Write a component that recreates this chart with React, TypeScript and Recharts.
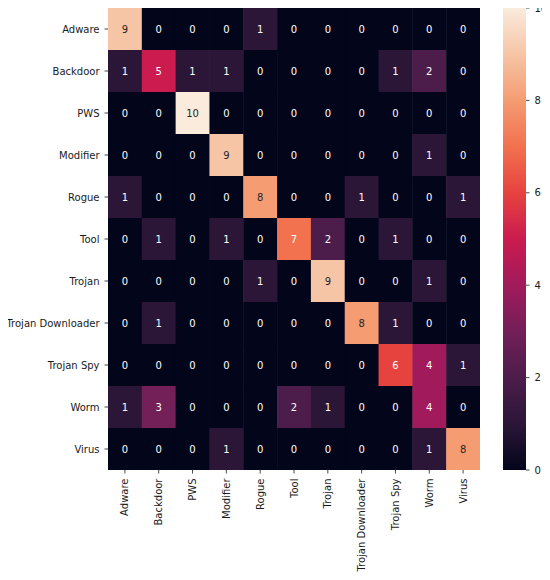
import React from 'react';
import { ScatterChart, Scatter, XAxis, YAxis, BarChart, Bar } from 'recharts';

// ---- data ----
const classes = [
  'Adware', 'Backdoor', 'PWS', 'Modifier', 'Rogue', 'Tool', 'Trojan',
  'Trojan Downloader', 'Trojan Spy', 'Worm', 'Virus',
];
const adwareRow = [9, 0, 0, 0, 1, 0, 0, 0, 0, 0, 0];
const backdoorRow = [1, 5, 1, 1, 0, 0, 0, 0, 1, 2, 0];
const pwsRow = [0, 0, 10, 0, 0, 0, 0, 0, 0, 0, 0];
const modifierRow = [0, 0, 0, 9, 0, 0, 0, 0, 0, 1, 0];
const rogueRow = [1, 0, 0, 0, 8, 0, 0, 1, 0, 0, 1];
const toolRow = [0, 1, 0, 1, 0, 7, 2, 0, 1, 0, 0];
const trojanRow = [0, 0, 0, 0, 1, 0, 9, 0, 0, 1, 0];
const trojanDownloaderRow = [0, 1, 0, 0, 0, 0, 0, 8, 1, 0, 0];
const trojanSpyRow = [0, 0, 0, 0, 0, 0, 0, 0, 6, 4, 1];
const wormRow = [1, 3, 0, 0, 0, 2, 1, 0, 0, 4, 0];
const virusRow = [0, 0, 0, 1, 0, 0, 0, 0, 0, 1, 8];
const colorbarTicks = [0, 2, 4, 6, 8, 10];

const rows = [
  adwareRow, backdoorRow, pwsRow, modifierRow, rogueRow, toolRow,
  trojanRow, trojanDownloaderRow, trojanSpyRow, wormRow, virusRow,
];

// rocket colormap sampled at 0, 0.1, ..., 1.0
const rocketStops = [
  '#03051a', '#2b1638', '#4c1d4b', '#731f58', '#a11a5b', '#cb1b4f',
  '#e6433f', '#f2714f', '#f59c73', '#f6c5a6', '#faebdd',
];

const vmin = colorbarTicks[0];
const vmax = colorbarTicks[colorbarTicks.length - 1];

function hexToRgb(h: string) {
  return [1, 3, 5].map((i) => parseInt(h.slice(i, i + 2), 16));
}
function colorFor(v: number) {
  const t = (v - vmin) / (vmax - vmin);
  const pos = Math.max(0, Math.min(1, t)) * (rocketStops.length - 1);
  const i = Math.min(Math.floor(pos), rocketStops.length - 2);
  const f = pos - i;
  const a = hexToRgb(rocketStops[i]);
  const b = hexToRgb(rocketStops[i + 1]);
  const c = a.map((x, k) => Math.round(x + (b[k] - x) * f));
  return `rgb(${c[0]},${c[1]},${c[2]})`;
}
function luminance(rgb: string) {
  const m = rgb.match(/\d+/g)!.map(Number).map((x) => {
    const s = x / 255;
    return s <= 0.03928 ? s / 12.92 : Math.pow((s + 0.055) / 1.055, 2.4);
  });
  return 0.2126 * m[0] + 0.7152 * m[1] + 0.0722 * m[2];
}

const cells = rows.flatMap((row, r) =>
  row.map((v, c) => ({
    x: c + 0.5,
    y: r + 0.5,
    v,
    actual: classes[r],
    predicted: classes[c],
  }))
);
const tickPositions = classes.map((_, i) => i + 0.5);
const colorbarData = [{ name: 'count', max: vmax }];

// ---- layout ----
const CHART_W = 480;
const CHART_H = 572;
const Y_AXIS_W = 100;
const X_AXIS_H = 110;
const RIGHT_M = 8;
const PLOT_W = CHART_W - Y_AXIS_W - RIGHT_M;
const PLOT_H = CHART_H - X_AXIS_H;
const CB_TOP = 10;
const FONT = "'DejaVu Sans', sans-serif";
const TEXT = '#1a1a1a';

const CellShape = (props: any) => {
  const { cx, cy, payload } = props;
  const w = PLOT_W / classes.length;
  const h = PLOT_H / classes.length;
  const fill = colorFor(payload.v);
  const txt = luminance(fill) > 0.408 ? '#262626' : '#ffffff';
  return (
    <g>
      <rect x={cx - w / 2} y={cy - h / 2} width={w + 0.5} height={h + 0.5} fill={fill} />
      <text
        x={cx}
        y={cy}
        textAnchor="middle"
        dominantBaseline="central"
        fontSize={10}
        fontFamily={FONT}
        fill={txt}
      >
        {payload.v}
      </text>
    </g>
  );
};

const RotatedTick = (props: any) => {
  const { x, y, payload } = props;
  return (
    <text
      x={x}
      y={y}
      transform={`rotate(-90, ${x}, ${y})`}
      textAnchor="end"
      dominantBaseline="central"
      fontSize={10}
      fontFamily={FONT}
      fill={TEXT}
    >
      {classes[Math.floor(payload.value)]}
    </text>
  );
};

const RowTick = (props: any) => {
  const { x, y, payload } = props;
  return (
    <text
      x={x}
      y={y}
      textAnchor="end"
      dominantBaseline="central"
      fontSize={10}
      fontFamily={FONT}
      fill={TEXT}
    >
      {classes[Math.floor(payload.value)]}
    </text>
  );
};

const ColorbarTick = (props: any) => {
  const { x, y, payload } = props;
  return (
    <text
      x={x}
      y={y}
      textAnchor="start"
      dominantBaseline="central"
      fontSize={10}
      fontFamily={FONT}
      fill={TEXT}
    >
      {payload.value}
    </text>
  );
};

export default function App() {
  return (
    <div style={{ position: 'relative', width: 534, height: 564, fontFamily: FONT }}>
      <style>{'body{overflow:hidden} .recharts-surface{overflow:visible}'}</style>
      <div style={{ position: 'absolute', left: 0, top: 0 }}>
        <ScatterChart
          width={CHART_W}
          height={CHART_H}
          margin={{ top: 0, right: RIGHT_M, bottom: 0, left: 0 }}
        >
          <XAxis
            type="number"
            dataKey="x"
            domain={[0, classes.length]}
            ticks={tickPositions}
            interval={0}
            height={X_AXIS_H}
            axisLine={false}
            tickSize={3.5}
            tickMargin={5}
            tickLine={{ stroke: TEXT, strokeWidth: 0.8 }}
            tick={<RotatedTick />}
            allowDataOverflow
          />
          <YAxis
            type="number"
            dataKey="y"
            domain={[0, classes.length]}
            reversed
            ticks={tickPositions}
            interval={0}
            width={Y_AXIS_W}
            axisLine={false}
            tickSize={3.5}
            tickMargin={5}
            tickLine={{ stroke: TEXT, strokeWidth: 0.8 }}
            tick={<RowTick />}
            allowDataOverflow
          />
          <Scatter data={cells} shape={<CellShape />} isAnimationActive={false} />
        </ScatterChart>
      </div>
      <div style={{ position: 'absolute', left: 495, top: -CB_TOP }}>
        <BarChart
          width={60}
          height={CHART_H + CB_TOP}
          data={colorbarData}
          margin={{ top: CB_TOP, right: 0, bottom: X_AXIS_H, left: 0 }}
          barCategoryGap={0}
        >
          <defs>
            <linearGradient id="rocketGradient" x1="0" y1="1" x2="0" y2="0">
              {rocketStops.map((c, i) => (
                <stop key={i} offset={i / (rocketStops.length - 1)} stopColor={c} />
              ))}
            </linearGradient>
          </defs>
          <XAxis dataKey="name" hide />
          <YAxis
            orientation="right"
            type="number"
            domain={[vmin, vmax]}
            ticks={colorbarTicks}
            interval={0}
            width={37}
            axisLine={false}
            tickSize={3.5}
            tickMargin={5}
            tickLine={{ stroke: TEXT, strokeWidth: 0.8 }}
            tick={<ColorbarTick />}
          />
          <Bar dataKey="max" fill="url(#rocketGradient)" isAnimationActive={false} />
        </BarChart>
      </div>
    </div>
  );
}
